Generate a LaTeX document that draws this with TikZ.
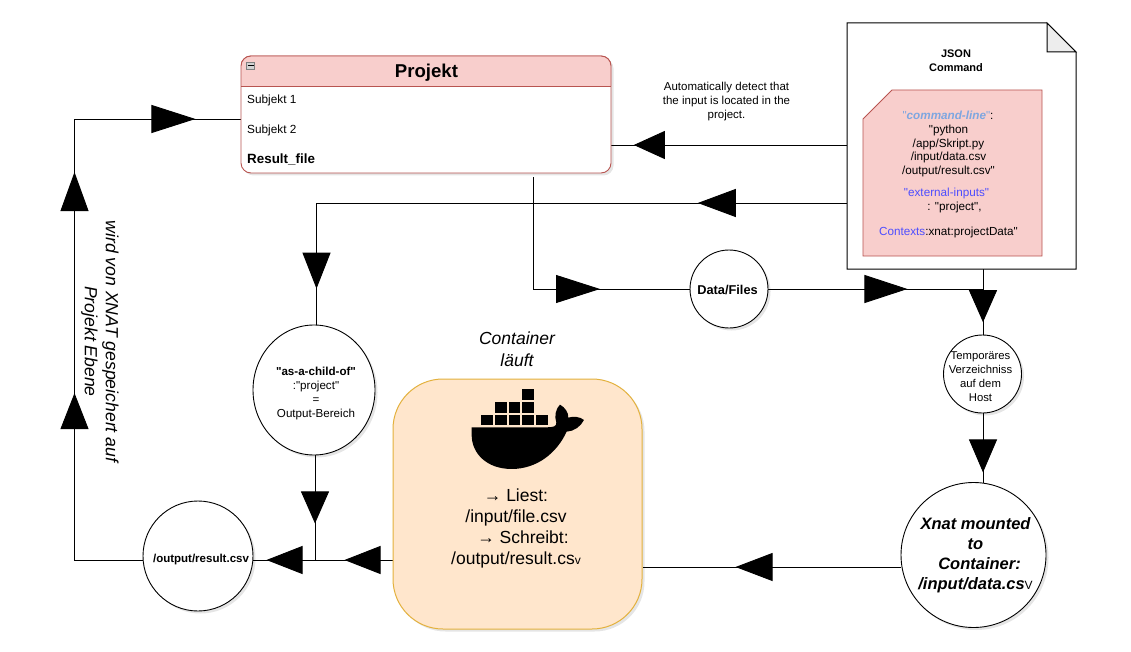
\documentclass[tikz,border=0pt]{standalone}
\usepackage{fontspec}
\setmainfont{Liberation Sans}[Ligatures=TeXOff]
\usetikzlibrary{arrows.meta,decorations.markings,shapes.geometric,shadows}
\pgfdeclarelayer{bg}
\pgfsetlayers{bg,main}
\definecolor{redfill}{HTML}{F8CECC}
\definecolor{redline}{HTML}{B85450}
\definecolor{orfill}{HTML}{FFE6CC}
\definecolor{orline}{HTML}{D79B00}
\definecolor{jsonblue}{HTML}{7EA6E0}
\definecolor{keyblue}{HTML}{4D4DFF}
\tikzset{
  f/.style 2 args={font=\fontsize{#1}{#2}\selectfont},
  txt/.style={inner sep=0pt,align=center,text=black},
  shad/.style={general shadow={fill=black,opacity=0.1,shadow xshift=2.5pt,shadow yshift=-2.5pt}},
  circ/.style={circle,draw=black,fill=white,line width=0.9pt,inner sep=0pt,shad},
  conn/.style={draw=black,line width=0.9pt},
  tipat/.style 2 args={postaction={decorate,decoration={markings,mark=at position #1pt with {\arrow{Triangle[length=#2pt,width=28pt]}}}}}
}
\begin{document}
\begin{tikzpicture}[x=1pt,y=-1pt]
\useasboundingbox (0,0) rectangle (1131,652);
\begin{pgfonlayer}{bg}
\fill[white] (0,0) rectangle (1131,652);
\end{pgfonlayer}

% swimlane
\node[rectangle,rounded corners=10pt,draw=redline,fill=white,line width=0.9pt,minimum width=370pt,minimum height=117pt,inner sep=0pt,shad] (proj) at (426,114.5) {};
\begin{scope}
\clip (241,56) rectangle (611,86);
\fill[redfill,draw=redline,line width=0.9pt,rounded corners=10pt] (241,56) rectangle (611,173);
\end{scope}
\draw[redline,line width=0.9pt] (241,86) -- (611,86);
\node[rectangle,draw=gray,fill=gray!35,minimum width=8pt,minimum height=7pt,inner sep=0pt] (coll) at (250.5,65.5) {};
\draw[black,line width=0.9pt] (247.5,65.5) -- (253.5,65.5);
\node[txt,font=\fontsize{18.6}{22}\selectfont\bfseries] (projT) at (426.5,73) {Projekt};
\node[txt,f={11.8}{14},anchor=west] (s1) at (247,100) {Subjekt 1};
\node[txt,f={11.8}{14},anchor=west] (s2) at (247,130) {Subjekt 2};
\node[txt,font=\fontsize{13.4}{14}\selectfont\bfseries,anchor=west] (rf) at (247,159.5) {Result\_file};

% document
\node[rectangle,minimum width=229pt,minimum height=246pt,inner sep=0pt] (doc) at (961.5,146) {};
\draw[black,fill=white,line width=1pt] (847,23) -- (1047,23) -- (1076,52) -- (1076,269) -- (847,269) -- cycle;
\draw[black,fill=black!7,line width=1pt] (1047,23) -- (1047,52) -- (1076,52) -- cycle;
\node[txt,font=\fontsize{11}{14}\selectfont\bfseries] (jsonT) at (956,61) {JSON\\Command};
\draw[redline,fill=redfill,line width=0.9pt] (892,90) -- (1042,90) -- (1042,256) -- (863,256) -- (863,119) -- cycle;
\node[txt,f={11.7}{14}] (c1) at (948,115) {\textcolor{jsonblue}{"\textbf{\textit{command-line}}"}:};
\node[txt,f={11.7}{13.7}] (c2) at (948.5,151) {"python\\/app/Skript.py\\/input/data.csv\\/output/result.csv"};
\node[txt,f={11.7}{14}] (c3) at (946.5,193) {\textcolor{keyblue}{"external-inputs"}};
\node[txt,f={11.7}{14}] (c4) at (954.5,207) {: "project",};
\node[txt,f={11.7}{14}] (c5) at (948.5,232) {\textcolor{keyblue}{Contexts}:xnat:projectData"};

% label
\node[txt,f={11.5}{14}] (auto) at (726.5,101.5) {Automatically detect that\\the input is located in the\\project.};

% circles
\node[circ,minimum size=78pt] (data) at (729,289) {};
\node[txt,font=\fontsize{12.8}{14}\selectfont\bfseries] (dataT) at (727.5,290) {Data/Files};
\node[circ,minimum size=78pt] (temp) at (982.5,374) {};
\node[txt,f={11.3}{14}] (tempT) at (980.5,377) {Temporäres\\Verzeichniss\\auf dem\\Host};
\node[circ,minimum size=145pt] (xnat) at (973.5,555) {};
\node[txt,font=\fontsize{16.5}{20}\selectfont\bfseries\itshape] (xnatT) at (975.5,555) {Xnat mounted\\to\\\hspace*{8pt}Container:\\/input/data.cs{\mdseries\upshape\fontsize{12}{20}\selectfont V}};
\node[ellipse,draw=black,fill=white,line width=0.9pt,inner sep=0pt,minimum width=122pt,minimum height=130pt,shad] (child) at (314,390) {};
\node[txt,f={11.6}{14}] (childT) at (316,393) {\textbf{"as-a-child-of"}\\:"project"\\=\\Output-Bereich};
\node[circ,minimum size=110pt] (out) at (198,556) {};
\node[txt,font=\fontsize{11.5}{14}\selectfont\bfseries] (outT) at (201,559.5) {/output/result.csv};

% container
\node[rectangle,rounded corners=50pt,draw=orline!70!orfill,fill=orfill,line width=1pt,minimum width=249pt,minimum height=250pt,inner sep=0pt,shad] (cont) at (517.5,504) {};
\begin{scope}[shift={(390,320)},scale=0.3333]
\foreach \x/\y in {397/207,315/246,356/246,397/246,273/284,315/284,356/284,397/284,438/284}
  \fill[black] (\x,\y) rectangle ++(35,32);
\fill[black] (245,322) -- (470,322) .. controls (490,322) and (500,319) .. (499,308)
  .. controls (492,288) and (498,265) .. (510,254)
  .. controls (525,262) and (536,278) .. (535,293)
  .. controls (550,288) and (570,290) .. (582,300)
  .. controls (572,320) and (552,334) .. (530,335)
  .. controls (500,400) and (440,447) .. (365,447)
  .. controls (290,447) and (245,400) .. (245,345) -- cycle;
\end{scope}
\node[txt,f={17.5}{21}] (contT) at (516,528.5) {→ Liest:\\/input/file.csv\\\hspace*{14pt}→ Schreibt:\\/output/result.cs{\fontsize{12}{21}\selectfont v}};
\node[txt,font=\fontsize{17.5}{22}\selectfont\itshape] (contL) at (517,349) {Container\\läuft};
\node[txt,font=\fontsize{17.6}{21}\selectfont\itshape,rotate=-90] (rotT) at (100,341.5) {wird von XNAT gespeichert auf\\Projekt Ebene};

% connectors
\coordinate (b1) at (74.5,560);
\coordinate (b2) at (74.5,119);
\coordinate (b3) at (316.5,203);
\coordinate (b4) at (533,177);
\coordinate (b5) at (533,289);
\coordinate (b6) at (983,289);
\coordinate (b7) at (315,560);
\begin{pgfonlayer}{bg}
\draw[conn,tipat={235}{36},tipat={456}{39},tipat={630}{44}] (out.west |- b1) -- (b1) -- (b2) -- (proj.west |- b2);
\draw[conn,tipat={213}{31}] (doc.west |- 0,145) -- (proj.east |- 0,145);
\draw[conn,tipat={149}{38},tipat={616}{36}] (doc.west |- b3) -- (b3) -- (child.north -| b3);
\draw[conn,tipat={179}{44}] (b4) -- (b5) -- (data.west |- b5);
\draw[conn,tipat={139}{43}] (data.east |- b6) -- (b6);
\draw[conn,tipat={53}{32}] (doc.south -| b6) -- (temp.north -| b6);
\draw[conn,tipat={59}{33}] (temp.south -| b6) -- (b6 |- xnat.center);
\draw[conn,tipat={165}{37}] (xnat.west |- 0,567) -- (cont.east |- 0,567);
\draw[conn,tipat={48}{36},tipat={126}{36}] (cont.west |- b7) -- (out.east |- b7);
\draw[conn,tipat={68}{32}] (child.south -| b7) -- (b7);
\end{pgfonlayer}
\end{tikzpicture}
\end{document}
